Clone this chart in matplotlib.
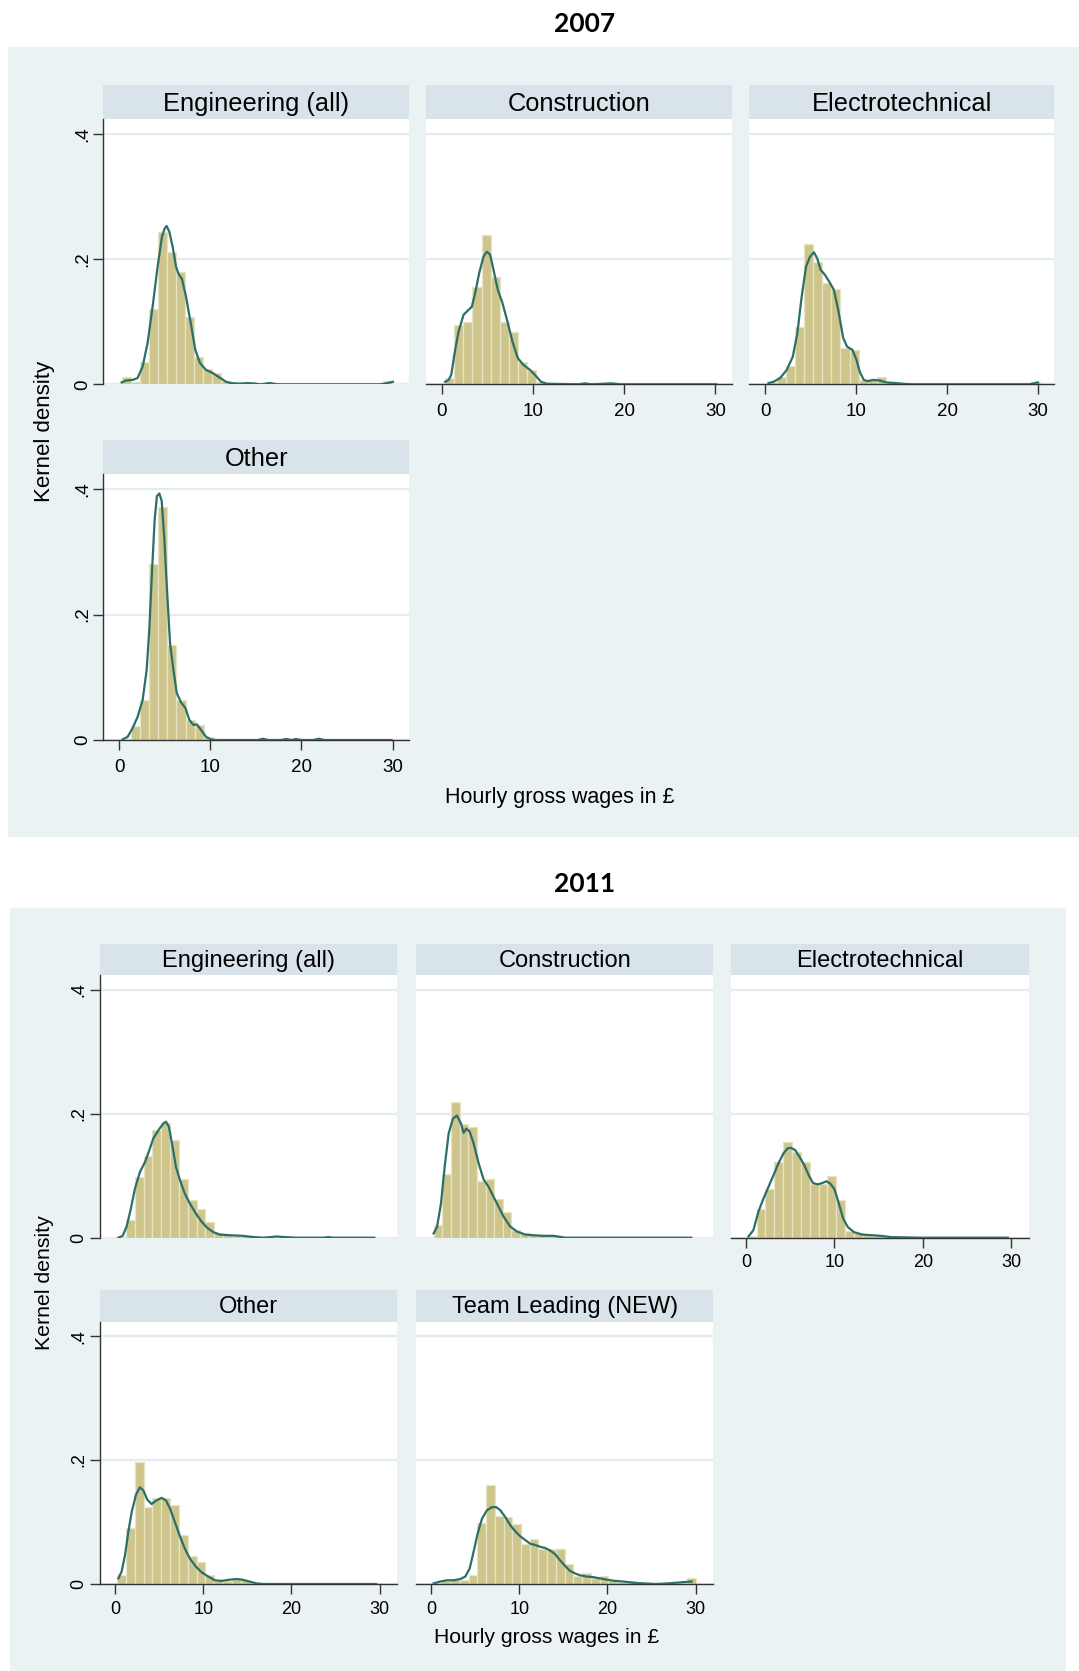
import matplotlib
matplotlib.use("Agg")
import matplotlib.pyplot as plt
from matplotlib.patches import Rectangle
import numpy as np

plt.rcParams['font.family'] = ['Liberation Sans', 'DejaVu Sans']

# ---------------- 2007 ----------------
eng07_start, eng07_width = 0.26, 0.99
eng07_hist = [0.011, 0.004, 0.036, 0.121, 0.244, 0.211, 0.179, 0.108, 0.044, 0.024,
              0.018, 0.005, 0.002, 0.001, 0.002, 0.001, 0.002, 0.000, 0.000, 0.000,
              0.000, 0.000, 0.000, 0.000, 0.000, 0.000, 0.000, 0.000, 0.000, 0.005]
eng07_kde_x = [0.26, 0.73, 1.47, 2.01, 2.56, 3.11, 3.66, 4.21, 4.69, 4.98, 5.20, 5.49,
               5.86, 6.23, 6.52, 6.89, 7.33, 7.88, 8.35, 8.86, 9.52, 10.26, 10.99, 11.72,
               12.27, 13.19, 14.10, 15.00, 15.57, 16.48, 17.40, 28.57, 29.10, 30.04]
eng07_kde_y = [0.003, 0.006, 0.007, 0.010, 0.028, 0.066, 0.124, 0.188, 0.236, 0.249, 0.253, 0.244,
               0.220, 0.188, 0.176, 0.168, 0.140, 0.095, 0.055, 0.034, 0.023, 0.018, 0.011, 0.004,
               0.002, 0.001, 0.002, 0.001, 0.000, 0.002, 0.000, 0.000, 0.001, 0.004]

con07_start, con07_width = 0.35, 1.0
con07_hist = [0.010, 0.095, 0.099, 0.156, 0.239, 0.172, 0.100, 0.083, 0.035, 0.023,
              0.004, 0.001, 0.000, 0.000, 0.000, 0.001, 0.000, 0.000, 0.001, 0.000,
              0.000, 0.000, 0.000, 0.000, 0.000, 0.000, 0.000, 0.000, 0.000, 0.000]
con07_kde_x = [0.36, 0.73, 1.02, 1.39, 1.82, 2.37, 2.85, 3.28, 3.65, 4.09, 4.56, 4.93,
               5.29, 5.66, 6.13, 6.64, 7.23, 7.74, 8.32, 8.94, 9.67, 10.20, 10.88, 11.50,
               12.77, 14.96, 15.70, 16.40, 17.90, 18.60, 19.70, 30.10]
con07_kde_y = [0.004, 0.007, 0.015, 0.050, 0.084, 0.111, 0.118, 0.124, 0.146, 0.178, 0.204, 0.212,
               0.207, 0.183, 0.151, 0.130, 0.098, 0.068, 0.042, 0.031, 0.023, 0.015, 0.004, 0.001,
               0.0005, 0.000, 0.0015, 0.000, 0.001, 0.0015, 0.000, 0.000]

ele07_start, ele07_width = 0.28, 1.0
ele07_hist = [0.003, 0.012, 0.029, 0.092, 0.224, 0.195, 0.162, 0.152, 0.058, 0.055,
              0.007, 0.008, 0.011, 0.003, 0.002, 0.001, 0.000, 0.000, 0.000, 0.000,
              0.000, 0.000, 0.000, 0.000, 0.000, 0.000, 0.000, 0.000, 0.000, 0.004]
ele07_kde_x = [0.36, 0.91, 1.64, 2.37, 3.03, 3.54, 4.01, 4.49, 4.93, 5.36, 5.73, 6.09,
               6.57, 7.04, 7.55, 8.03, 8.58, 9.01, 9.60, 10.04, 10.40, 10.84, 11.31, 11.86,
               12.59, 13.32, 14.23, 15.50, 16.24, 29.00, 29.56, 30.00]
ele07_kde_y = [0.002, 0.004, 0.010, 0.023, 0.044, 0.082, 0.140, 0.188, 0.204, 0.211, 0.201, 0.183,
               0.175, 0.164, 0.151, 0.119, 0.074, 0.060, 0.055, 0.039, 0.020, 0.007, 0.005, 0.007,
               0.006, 0.003, 0.002, 0.0005, 0.000, 0.000, 0.0016, 0.003]

oth07_start, oth07_width = 0.28, 1.0
oth07_hist = [0.001, 0.023, 0.063, 0.280, 0.372, 0.151, 0.064, 0.032, 0.024, 0.004,
              0.001, 0.000, 0.000, 0.000, 0.000, 0.001, 0.000, 0.001, 0.000, 0.001,
              0.000, 0.001, 0.000, 0.000, 0.000, 0.000, 0.000, 0.000, 0.000, 0.000]
oth07_kde_x = [0.37, 0.92, 1.47, 2.02, 2.57, 3.01, 3.30, 3.59, 3.89, 4.14, 4.40, 4.66, 4.95,
               5.24, 5.57, 5.94, 6.31, 6.78, 7.26, 7.70, 8.14, 8.51, 8.98, 9.53, 10.08, 10.60,
               15.20, 15.80, 16.30, 17.80, 18.30, 18.90, 19.40, 20.00, 21.30, 21.90, 22.50, 29.90]
oth07_kde_y = [0.001, 0.005, 0.019, 0.037, 0.064, 0.112, 0.176, 0.267, 0.352, 0.389, 0.393, 0.381, 0.320,
               0.240, 0.155, 0.112, 0.075, 0.060, 0.051, 0.032, 0.024, 0.025, 0.016, 0.005, 0.001, 0.000,
               0.000, 0.002, 0.000, 0.000, 0.0016, 0.000, 0.0016, 0.000, 0.000, 0.002, 0.000, 0.000]

# ---------------- 2011 ----------------
eng11_start, eng11_width = 0.25, 1.0
eng11_hist = [0.001, 0.028, 0.098, 0.131, 0.173, 0.185, 0.157, 0.094, 0.061, 0.047,
              0.026, 0.008, 0.005, 0.003, 0.002, 0.002, 0.001, 0.001, 0.001, 0.001,
              0.000, 0.000, 0.000, 0.000, 0.001, 0.000, 0.000, 0.000, 0.000, 0.000]
eng11_kde_x = [0.38, 0.87, 1.32, 1.77, 2.26, 2.83, 3.40, 3.89, 4.34, 4.91, 5.47, 5.77,
               6.11, 6.53, 6.91, 7.36, 7.92, 8.49, 9.17, 9.81, 10.45, 11.13, 11.89, 13.02,
               14.50, 15.66, 16.80, 17.70, 18.30, 19.20, 20.60, 23.60, 24.20, 24.70, 29.40]
eng11_kde_y = [0.000, 0.003, 0.018, 0.045, 0.079, 0.106, 0.122, 0.141, 0.160, 0.173, 0.184, 0.187,
               0.179, 0.146, 0.114, 0.093, 0.071, 0.055, 0.039, 0.026, 0.016, 0.009, 0.005, 0.004,
               0.003, 0.001, 0.000, 0.001, 0.002, 0.001, 0.000, 0.000, 0.001, 0.000, 0.000]

con11_start, con11_width = 0.30, 0.98
con11_hist = [0.021, 0.102, 0.218, 0.184, 0.179, 0.092, 0.094, 0.062, 0.042, 0.012,
              0.007, 0.005, 0.004, 0.003, 0.003, 0.000, 0.000, 0.000, 0.000, 0.000,
              0.000, 0.000, 0.000, 0.000, 0.000, 0.000, 0.000, 0.000, 0.000, 0.000]
con11_kde_x = [0.30, 0.68, 1.13, 1.55, 2.00, 2.49, 2.94, 3.40, 3.70, 4.00, 4.38, 4.83, 5.40,
               5.96, 6.53, 7.09, 7.66, 8.23, 8.98, 9.74, 10.68, 11.62, 12.75, 13.89, 15.20, 29.50]
con11_kde_y = [0.007, 0.017, 0.055, 0.114, 0.168, 0.192, 0.197, 0.184, 0.169, 0.176, 0.171, 0.152, 0.120,
               0.094, 0.082, 0.066, 0.050, 0.034, 0.018, 0.010, 0.005, 0.004, 0.003, 0.003, 0.000, 0.000]

ele11_start, ele11_width = 0.20, 1.0
ele11_hist = [0.002, 0.047, 0.079, 0.122, 0.154, 0.138, 0.122, 0.087, 0.087, 0.099,
              0.060, 0.010, 0.007, 0.004, 0.003, 0.002, 0.001, 0.001, 0.001, 0.000,
              0.000, 0.000, 0.000, 0.000, 0.000, 0.000, 0.000, 0.000, 0.000, 0.000]
ele11_kde_x = [0.27, 0.83, 1.40, 1.97, 2.54, 3.11, 3.67, 4.24, 4.70, 5.08, 5.57, 6.06, 6.59,
               7.08, 7.58, 8.11, 8.60, 9.09, 9.55, 10.00, 10.50, 10.98, 11.52, 12.20, 13.14,
               14.28, 15.23, 16.36, 17.90, 19.80, 29.60]
ele11_kde_y = [0.002, 0.012, 0.042, 0.063, 0.082, 0.101, 0.120, 0.136, 0.144, 0.145, 0.141, 0.130, 0.117,
               0.101, 0.088, 0.086, 0.088, 0.091, 0.087, 0.078, 0.055, 0.031, 0.017, 0.009, 0.005,
               0.004, 0.003, 0.001, 0.0005, 0.000, 0.000]

oth11_start, oth11_width = 0.25, 1.0
oth11_hist = [0.015, 0.091, 0.197, 0.124, 0.139, 0.139, 0.127, 0.079, 0.045, 0.035,
              0.015, 0.006, 0.005, 0.008, 0.006, 0.002, 0.000, 0.000, 0.000, 0.001,
              0.000, 0.000, 0.000, 0.000, 0.000, 0.000, 0.000, 0.000, 0.000, 0.001]
oth11_kde_x = [0.38, 0.75, 1.13, 1.51, 1.89, 2.38, 2.83, 3.21, 3.66, 4.15, 4.72, 5.28, 5.77,
               6.23, 6.79, 7.36, 7.92, 8.49, 9.17, 9.81, 10.57, 11.32, 12.08, 13.02, 13.77,
               14.45, 15.21, 16.04, 16.80, 29.60]
oth11_kde_y = [0.009, 0.020, 0.046, 0.084, 0.116, 0.144, 0.156, 0.151, 0.136, 0.129, 0.135, 0.139, 0.135,
               0.122, 0.100, 0.077, 0.057, 0.041, 0.028, 0.019, 0.012, 0.006, 0.005, 0.007, 0.008,
               0.007, 0.004, 0.001, 0.000, 0.000]

tl11_start, tl11_width = 0.30, 0.99
tl11_hist = [0.002, 0.005, 0.007, 0.006, 0.015, 0.099, 0.160, 0.110, 0.108, 0.097,
             0.064, 0.073, 0.056, 0.056, 0.057, 0.033, 0.013, 0.017, 0.009, 0.013,
             0.006, 0.003, 0.005, 0.002, 0.001, 0.000, 0.000, 0.001, 0.002, 0.010]
tl11_kde_x = [0.30, 1.06, 1.81, 2.57, 3.32, 3.89, 4.38, 4.83, 5.28, 5.77, 6.34, 6.91, 7.40, 7.85,
              8.42, 8.98, 9.55, 10.11, 10.68, 11.25, 11.81, 12.38, 12.94, 13.51, 14.08, 14.64,
              15.21, 15.77, 16.34, 16.91, 17.66, 18.42, 19.17, 19.92, 20.87, 21.81, 22.94, 24.08,
              25.40, 26.34, 27.47, 28.60, 29.55]
tl11_kde_y = [0.001, 0.004, 0.006, 0.006, 0.008, 0.012, 0.025, 0.052, 0.081, 0.105, 0.119, 0.124, 0.124, 0.119,
              0.108, 0.095, 0.085, 0.077, 0.071, 0.065, 0.063, 0.060, 0.058, 0.054, 0.048, 0.038,
              0.029, 0.021, 0.017, 0.014, 0.012, 0.011, 0.009, 0.007, 0.005, 0.004, 0.002, 0.001,
              0.000, 0.0005, 0.0016, 0.003, 0.004]

y_ticks = [0, 0.2, 0.4]
y_ticklabels = ['0', '.2', '.4']
x_ticks = [0, 10, 20, 30]

W, H = 1079, 1671
BG = '#eaf2f3'
STRIP = '#d8e4ea'
GRID = '#e3edf0'
FILL = '#cec58c'
EDGE = '#e9e4c3'
LINE = '#2b6f68'
AXIS = '#333333'
YTOP = 0.4235


def frac(x0, y0, x1, y1):
    # pixel box (top-left origin) -> figure fraction rect
    return [x0 / W, 1 - y1 / H, (x1 - x0) / W, (y1 - y0) / H]


def draw_panel(fig, sec, box_x, strip_y, plot_y, name, start, width, hist, kx, ky, show_x, show_y):
    sax = fig.add_axes(frac(box_x[0], strip_y[0], box_x[1], strip_y[1]))
    sax.set_facecolor(STRIP)
    sax.set_xticks([])
    sax.set_yticks([])
    for s in sax.spines.values():
        s.set_visible(False)
    sax.text(0.5, 0.45, name, ha='center', va='center', fontsize=sec['strip_fs'], color='black')

    ax = fig.add_axes(frac(box_x[0], plot_y[0], box_x[1], plot_y[1]))
    ax.set_facecolor('white')
    edges = start + width * np.arange(len(hist))
    ax.bar(edges, hist, width=width, align='edge', color=FILL, edgecolor=EDGE,
           linewidth=0.9, zorder=2)
    ax.plot(kx, ky, color=LINE, lw=1.6, zorder=3, solid_joinstyle='round')
    ax.set_xlim(*sec['xlim'])
    ax.set_ylim(0, YTOP)
    ax.set_yticks(y_ticks)
    ax.yaxis.grid(True, color=GRID, lw=1.6)
    ax.set_axisbelow(True)
    for s in ax.spines.values():
        s.set_visible(False)
    ax.set_xticks(x_ticks)
    if show_y:
        ax.spines['left'].set_visible(True)
        ax.spines['left'].set_color(AXIS)
        ax.spines['left'].set_linewidth(1.0)
        ax.set_yticklabels(y_ticklabels, rotation=90, va='center')
        ax.tick_params(axis='y', length=7, width=1.0, color=AXIS, labelsize=sec['tick_fs'], pad=2)
    else:
        ax.tick_params(axis='y', left=False, labelleft=False)
    if show_x:
        ax.spines['bottom'].set_visible(True)
        ax.spines['bottom'].set_color(AXIS)
        ax.spines['bottom'].set_linewidth(1.0)
        ax.tick_params(axis='x', length=7, width=1.0, color=AXIS, labelsize=sec['tick_fs'],
                       pad=sec['xpad'])
    else:
        ax.tick_params(axis='x', bottom=False, labelbottom=False)
    return ax


sections = [
    dict(title='2007', title_xy=(585, 23.5), bg=(7.5, 47, 1079, 837),
         cols=[(103.3, 409.0), (426.0, 731.7), (749.3, 1054.3)],
         rows=[((85.0, 119.3), (119.3, 384.3)), ((440.0, 474.3), (474.3, 740.0))],
         xlim=(-1.75, 31.8), xlabel_xy=(560, 797.5), ylabel_xy=(44.8, 431.8),
         strip_fs=18.3, tick_fs=13.5, xpad=6.5, xlabel_fs=15.5, ylabel_fs=16,
         panels=[
             ('Engineering (all)', 0, 0, eng07_start, eng07_width, eng07_hist, eng07_kde_x, eng07_kde_y, False),
             ('Construction', 0, 1, con07_start, con07_width, con07_hist, con07_kde_x, con07_kde_y, True),
             ('Electrotechnical', 0, 2, ele07_start, ele07_width, ele07_hist, ele07_kde_x, ele07_kde_y, True),
             ('Other', 1, 0, oth07_start, oth07_width, oth07_hist, oth07_kde_x, oth07_kde_y, True),
         ]),
    dict(title='2011', title_xy=(585, 884), bg=(9.6, 907.5, 1066, 1671),
         cols=[(100.0, 397.3), (416.0, 713.3), (731.0, 1029.0)],
         rows=[((944.0, 975.0), (975.0, 1237.7)), ((1290.0, 1321.5), (1321.5, 1584.0))],
         xlim=(-1.7, 32.0), xlabel_xy=(547, 1637.6), ylabel_xy=(44.8, 1282.6),
         strip_fs=17.0, tick_fs=13.0, xpad=5.0, xlabel_fs=15.2, ylabel_fs=15.3,
         panels=[
             ('Engineering (all)', 0, 0, eng11_start, eng11_width, eng11_hist, eng11_kde_x, eng11_kde_y, False),
             ('Construction', 0, 1, con11_start, con11_width, con11_hist, con11_kde_x, con11_kde_y, False),
             ('Electrotechnical', 0, 2, ele11_start, ele11_width, ele11_hist, ele11_kde_x, ele11_kde_y, True),
             ('Other', 1, 0, oth11_start, oth11_width, oth11_hist, oth11_kde_x, oth11_kde_y, True),
             ('Team Leading (NEW)', 1, 1, tl11_start, tl11_width, tl11_hist, tl11_kde_x, tl11_kde_y, True),
         ]),
]

fig = plt.figure(figsize=(W / 100, H / 100), dpi=100)
fig.patch.set_facecolor('white')

for sec in sections:
    x0, y0, x1, y1 = sec['bg']
    fig.add_artist(Rectangle((x0 / W, 1 - y1 / H), (x1 - x0) / W, (y1 - y0) / H,
                             transform=fig.transFigure, facecolor=BG, edgecolor='none', zorder=-5))
    tx, ty = sec['title_xy']
    fig.text(tx / W, 1 - ty / H, sec['title'], ha='center', va='center', fontsize=19,
             fontweight='bold', family=['Lato', 'DejaVu Sans'])
    for name, r, c, start, width, hist, kx, ky, show_x in sec['panels']:
        strip_y, plot_y = sec['rows'][r]
        draw_panel(fig, sec, sec['cols'][c], strip_y, plot_y, name,
                   start, width, hist, kx, ky, show_x, c == 0)
    lx, ly = sec['xlabel_xy']
    fig.text(lx / W, 1 - ly / H, 'Hourly gross wages in £', ha='center', va='center',
             fontsize=sec['xlabel_fs'])
    kx_, ky_ = sec['ylabel_xy']
    fig.text(kx_ / W, 1 - ky_ / H, 'Kernel density', ha='center', va='center',
             rotation=90, fontsize=sec['ylabel_fs'])

fig.savefig('out.png', dpi=100)
